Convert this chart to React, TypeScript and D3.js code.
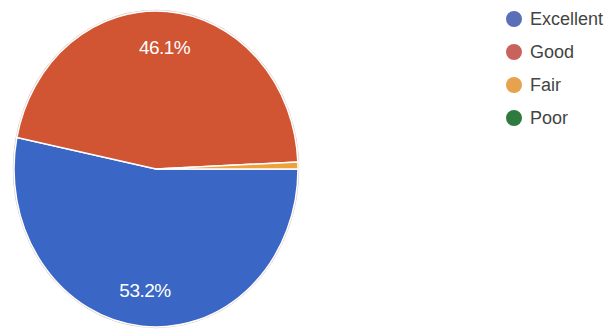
import React from "react";
import * as d3 from "d3";

const categories = ["Excellent", "Good", "Fair", "Poor"];
const values = [53.2, 46.1, 0.7, 0];
const labels = ["53.2%", "46.1%", "", ""];
const colors = ["#3a66c5", "#d15433", "#eea23c", "#2c7a3b"];
const legendColors = ["#5b6fb8", "#c9625c", "#e6a24c", "#2f7a3e"];

const W = 608;
const H = 329;
const cx = 156;
const cy = 169;
const rx = 142;
const ry = 158;

export default function App() {
  const pie = d3
    .pie<number>()
    .sort(null)
    .value((d) => d)
    .startAngle(Math.PI / 2)
    .endAngle(Math.PI / 2 + 2 * Math.PI);
  const arcs = pie(values);
  const arc = d3.arc<d3.PieArcDatum<number>>().innerRadius(0).outerRadius(ry);
  const legendY = d3.scalePoint<string>().domain(categories).range([19, 118]);

  return (
    <svg
      width={W}
      height={H}
      style={{ position: "absolute", left: 0, top: 0, background: "#fff" }}
      fontFamily="'Liberation Sans', Arial, sans-serif"
    >
      <g transform={`translate(${cx},${cy}) scale(${rx / ry},1)`}>
        <ellipse rx={ry + 0.5} ry={ry + 0.5} fill="none" stroke="#8a4a3a" strokeOpacity={0.35} strokeWidth={1.5} vectorEffect="non-scaling-stroke" />
        {arcs.map((a, i) =>
          a.value > 0 ? (
            <path
              key={i}
              d={arc(a) || ""}
              fill={colors[i]}
              stroke="#ffffff"
              strokeWidth={1.5}
              vectorEffect="non-scaling-stroke"
            />
          ) : null
        )}
      </g>
      {arcs.map((a, i) => {
        if (!labels[i]) return null;
        const mid = (a.startAngle + a.endAngle) / 2;
        const k = 0.77;
        const x = cx + Math.sin(mid) * k * rx;
        const y = cy - Math.cos(mid) * k * ry;
        return (
          <text
            key={"l" + i}
            x={x}
            y={y}
            fill="#ffffff"
            fontSize={19}
            textAnchor="middle"
            dominantBaseline="central"
            letterSpacing={-0.5}
          >
            {labels[i]}
          </text>
        );
      })}
      {categories.map((c, i) => (
        <g key={"g" + c} transform={`translate(514,${legendY(c)})`}>
          <circle r={8} fill={legendColors[i]} />
          <text x={16} y={0} dominantBaseline="central" fontSize={18} fill="#444">
            {c}
          </text>
        </g>
      ))}
    </svg>
  );
}
